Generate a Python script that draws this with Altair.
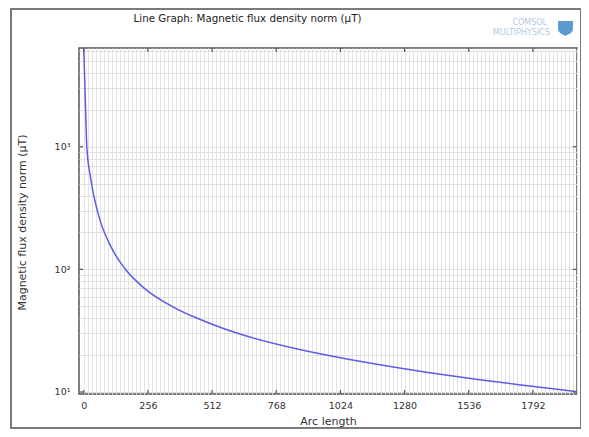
import altair as alt
import pandas as pd

# ---- data ----
arc_length = [0, 3.2, 7.1, 12.3, 27, 57, 110, 163, 242, 361, 470, 560, 659,
              857, 1055, 1175, 1254, 1373, 1572, 1770, 1968]
b_norm = [6400, 3820, 2040, 995, 560, 286, 151, 102, 70, 48.8, 38.6, 32.8, 28.2,
          22.3, 18.5, 16.75, 15.75, 14.45, 12.65, 11.25, 10.05]

x_major = [0, 256, 512, 768, 1024, 1280, 1536, 1792]
y_major = [10, 100, 1000]
x_grid = list(range(0, 1969, 16))
y_grid = [m * 10 ** e for e in (1, 2, 3) for m in range(1, 10) if m * 10 ** e <= 6385]

title_text = "Line Graph: Magnetic flux density norm (µT)"
x_title = "Arc length"
y_title = "Magnetic flux density norm (µT)"
logo_top = "COMSOL"
logo_bottom = "MULTIPHYSICS"

W, H = 498, 346
FONT = "DejaVu Sans"

xscale = alt.Scale(domain=[-19, 1968], nice=False, zero=False)
yscale = alt.Scale(type="log", domain=[9.63, 6385], nice=False)

df = pd.DataFrame({"arc": arc_length, "b": b_norm})
xt = pd.DataFrame({"arc": x_major})
yt = pd.DataFrame({"b": y_major})
one = pd.DataFrame({"k": [0]})

x_axis = alt.Axis(
    values=x_grid, grid=True, gridColor="#e4e4e4", gridWidth=1,
    ticks=False, tickSize=0, domain=False,
    labelExpr="datum.value % 256 == 0 ? format(datum.value, 'd') : ''",
    labelFont=FONT, labelFontSize=9.5, labelColor="#333333", labelPadding=6,
    labelOverlap=False, labelFlush=False,
    title=x_title, titleFont=FONT, titleFontSize=11, titleFontWeight="normal",
    titleColor="#333333", titleY=27, titleBaseline="middle",
)
y_axis = alt.Axis(
    values=y_grid, grid=True, gridColor="#e0e0e0", gridWidth=1,
    ticks=False, tickSize=0, domain=False,
    labelExpr="datum.value == 10 ? '10¹' : datum.value == 100 ? '10²' : datum.value == 1000 ? '10³' : ''",
    labelFont=FONT, labelFontSize=9.5, labelColor="#333333", labelPadding=9,
    labelOverlap=False, labelFlush=False,
    title=y_title, titleFont=FONT, titleFontSize=11, titleFontWeight="normal",
    titleColor="#333333", titleX=-57, titleY=174, titleAngle=270,
    titleBaseline="middle", titleAlign="center",
)

X = alt.X("arc:Q", scale=xscale, axis=x_axis)
Y = alt.Y("b:Q", scale=yscale, axis=y_axis)

line = alt.Chart(df).mark_line(
    color="#5c5ce8", strokeWidth=1.5, clip=True, interpolate="monotone"
).encode(x=X, y=Y)

tick_style = dict(color="#555555", strokeWidth=1.2)
bottom_ticks = alt.Chart(xt).mark_rule(**tick_style).encode(
    x=X, y=alt.value(H), y2=alt.value(H - 4))
top_ticks = alt.Chart(xt).mark_rule(**tick_style).encode(
    x=X, y=alt.value(0), y2=alt.value(4))
left_ticks = alt.Chart(yt).mark_rule(**tick_style).encode(
    y=Y, x=alt.value(0), x2=alt.value(4))
right_ticks = alt.Chart(yt).mark_rule(**tick_style).encode(
    y=Y, x=alt.value(W), x2=alt.value(W - 4))

title = alt.Chart(one).mark_text(
    text=title_text, font=FONT, fontSize=10.3, color="#222222",
    align="center", baseline="middle"
).encode(x=alt.value(168.5), y=alt.value(-29))

logo1 = alt.Chart(one).mark_text(
    text=logo_top, font=FONT, fontSize=8, color="#b3c9df",
    align="right", baseline="middle"
).encode(x=alt.value(468), y=alt.value(-25.5))
logo2 = alt.Chart(one).mark_text(
    text=logo_bottom, font=FONT, fontSize=8, color="#b3c9df",
    align="right", baseline="middle"
).encode(x=alt.value(471), y=alt.value(-15.5))
shield = alt.Chart(one).mark_point(
    shape="M-1,-1 L1,-1 L1,0.15 C1,0.65 0,1 0,1 C0,1 -1,0.65 -1,0.15 Z",
    filled=True, color="#5a9ad0", size=220, opacity=1
).encode(x=alt.value(486.5), y=alt.value(-19.5))

border = alt.Chart(one).mark_rect(
    filled=False, color="#7a7a7a", strokeWidth=2
).encode(x=alt.value(-68), x2=alt.value(W + 4), y=alt.value(-39), y2=alt.value(380))

chart = alt.layer(
    line, bottom_ticks, top_ticks, left_ticks, right_ticks,
    title, logo1, logo2, shield, border
).properties(
    width=W, height=H,
    autosize=alt.AutoSizeParams(type="none"),
    padding={"left": 71, "top": 40, "right": 4, "bottom": 35},
    background="white",
).configure_view(stroke="#555555", strokeWidth=1.5)

chart.save("out.html", embed_options={"renderer": "svg", "actions": False})
